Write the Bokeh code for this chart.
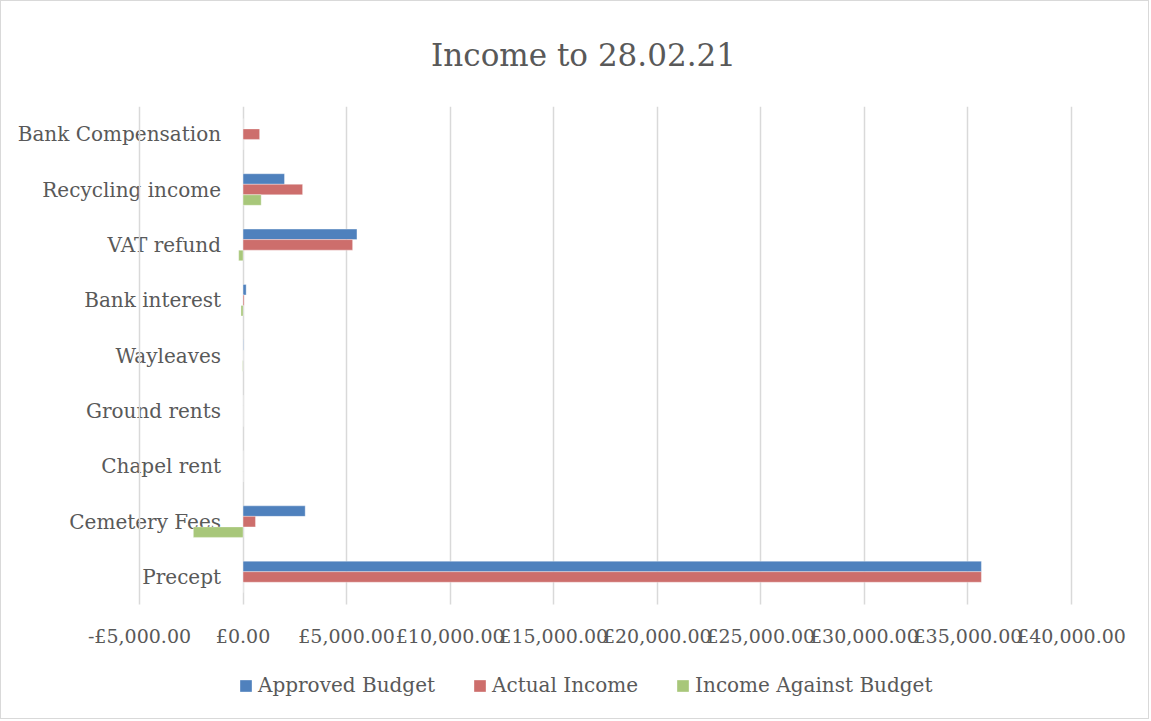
from bokeh.plotting import figure
from bokeh.models import (Range1d, FixedTicker, ColumnDataSource,
                          LabelSet, Legend, LegendItem)
from bokeh.transform import dodge
from bokeh.core.properties import value
from bokeh.embed import file_html
from bokeh.resources import INLINE

# ---- data ----
categories = ["Precept", "Cemetery Fees", "Chapel rent", "Ground rents", "Wayleaves",
              "Bank interest", "VAT refund", "Recycling income", "Bank Compensation"]
approved_budget = [35650, 3000, 0, 0, 20, 150, 5500, 2000, 0]
actual_income = [35650, 600, 0, 0, 0, 50, 5290, 2875, 800]
income_against_budget = [0, -2400, 0, 0, -20, -100, -210, 875, 0]

series_names = ["Approved Budget", "Actual Income", "Income Against Budget"]
tick_values = [-5000, 0, 5000, 10000, 15000, 20000, 25000, 30000, 35000, 40000]
tick_labels = ["-£5,000.00", "£0.00", "£5,000.00", "£10,000.00", "£15,000.00",
               "£20,000.00", "£25,000.00", "£30,000.00", "£35,000.00", "£40,000.00"]
title_text = "Income to 28.02.21"

# ---- styles / layout ----
FONT = "DejaVu Serif"
TXT = "#595959"
colors = ["#4F81BD", "#CD6E6C", "#A8C77A"]
n = len(categories)
# the plotting frame is widened beyond the gridded area so that the category
# labels, tick labels and legend (all drawn inside it) are not clipped
X_MIN, X_MAX = -10939, 43815
Y_MIN, Y_MAX = -2.093, n

source = ColumnDataSource(dict(
    cat=categories,
    y=[i + 0.5 for i in range(n)],
    approved=approved_budget,
    actual=actual_income,
    against=income_against_budget,
    zero=[0] * n,
))
tick_source = ColumnDataSource(dict(
    x=tick_values, label=tick_labels, y=[0] * len(tick_values),
))

W, H = 1149, 719
p = figure(width=W, height=H,
           x_range=Range1d(X_MIN, X_MAX), y_range=Range1d(Y_MIN, Y_MAX),
           output_backend="svg", toolbar_location=None,
           min_border_left=15, min_border_right=0,
           min_border_top=99, min_border_bottom=0,
           styles={"border": "1px solid #d9d9d9"})

p.title.text = title_text
p.title.align = "center"
p.title.text_font = FONT
p.title.text_font_size = "31px"
p.title.text_font_style = "normal"
p.title.text_color = TXT
p.title.standoff = 67

p.outline_line_color = None
p.ygrid.visible = False
p.yaxis.visible = False
p.xaxis.visible = False
p.xgrid.ticker = FixedTicker(ticks=tick_values)
p.xgrid.grid_line_color = "#d9d9d9"
p.xgrid.grid_line_width = 1.5
p.xgrid.cross_bounds = (0, n)

# category labels (left of zero, as in the original)
labels = LabelSet(x="zero", y="y", text="cat", source=source, level="image",
                  x_offset=-22, text_align="right", text_baseline="middle",
                  text_font=value(FONT), text_font_size=value("20px"),
                  text_color=TXT)
p.add_layout(labels)

# value-axis tick labels
tlabels = LabelSet(x="x", y="y", text="label", source=tick_source,
                   y_offset=-31, text_align="center", text_baseline="middle",
                   text_font=value(FONT), text_font_size=value("19px"),
                   text_color=TXT)
p.add_layout(tlabels)

bw = 0.19
r1 = p.hbar(y=dodge("y", bw), left="zero", right="approved",
            height=bw, source=source, fill_color=colors[0],
            line_color="white", line_alpha=0.35, line_width=1)
r2 = p.hbar(y=dodge("y", 0.0), left="zero", right="actual",
            height=bw, source=source, fill_color=colors[1],
            line_color="white", line_alpha=0.35, line_width=1)
r3 = p.hbar(y=dodge("y", -bw), left="zero", right="against",
            height=bw, source=source, fill_color=colors[2],
            line_color="white", line_alpha=0.35, line_width=1)

legend = Legend(items=[LegendItem(label=series_names[0], renderers=[r1]),
                       LegendItem(label=series_names[1], renderers=[r2]),
                       LegendItem(label=series_names[2], renderers=[r3])],
                orientation="horizontal", location=(222, 23),
                glyph_width=15, glyph_height=15, label_standoff=5, spacing=37,
                padding=0, margin=0, border_line_color=None,
                background_fill_alpha=0,
                label_text_font=FONT, label_text_font_size="20px",
                label_text_color=TXT, label_height=20)
p.add_layout(legend, "center")

open("out.html", "w").write(file_html(p, INLINE))
